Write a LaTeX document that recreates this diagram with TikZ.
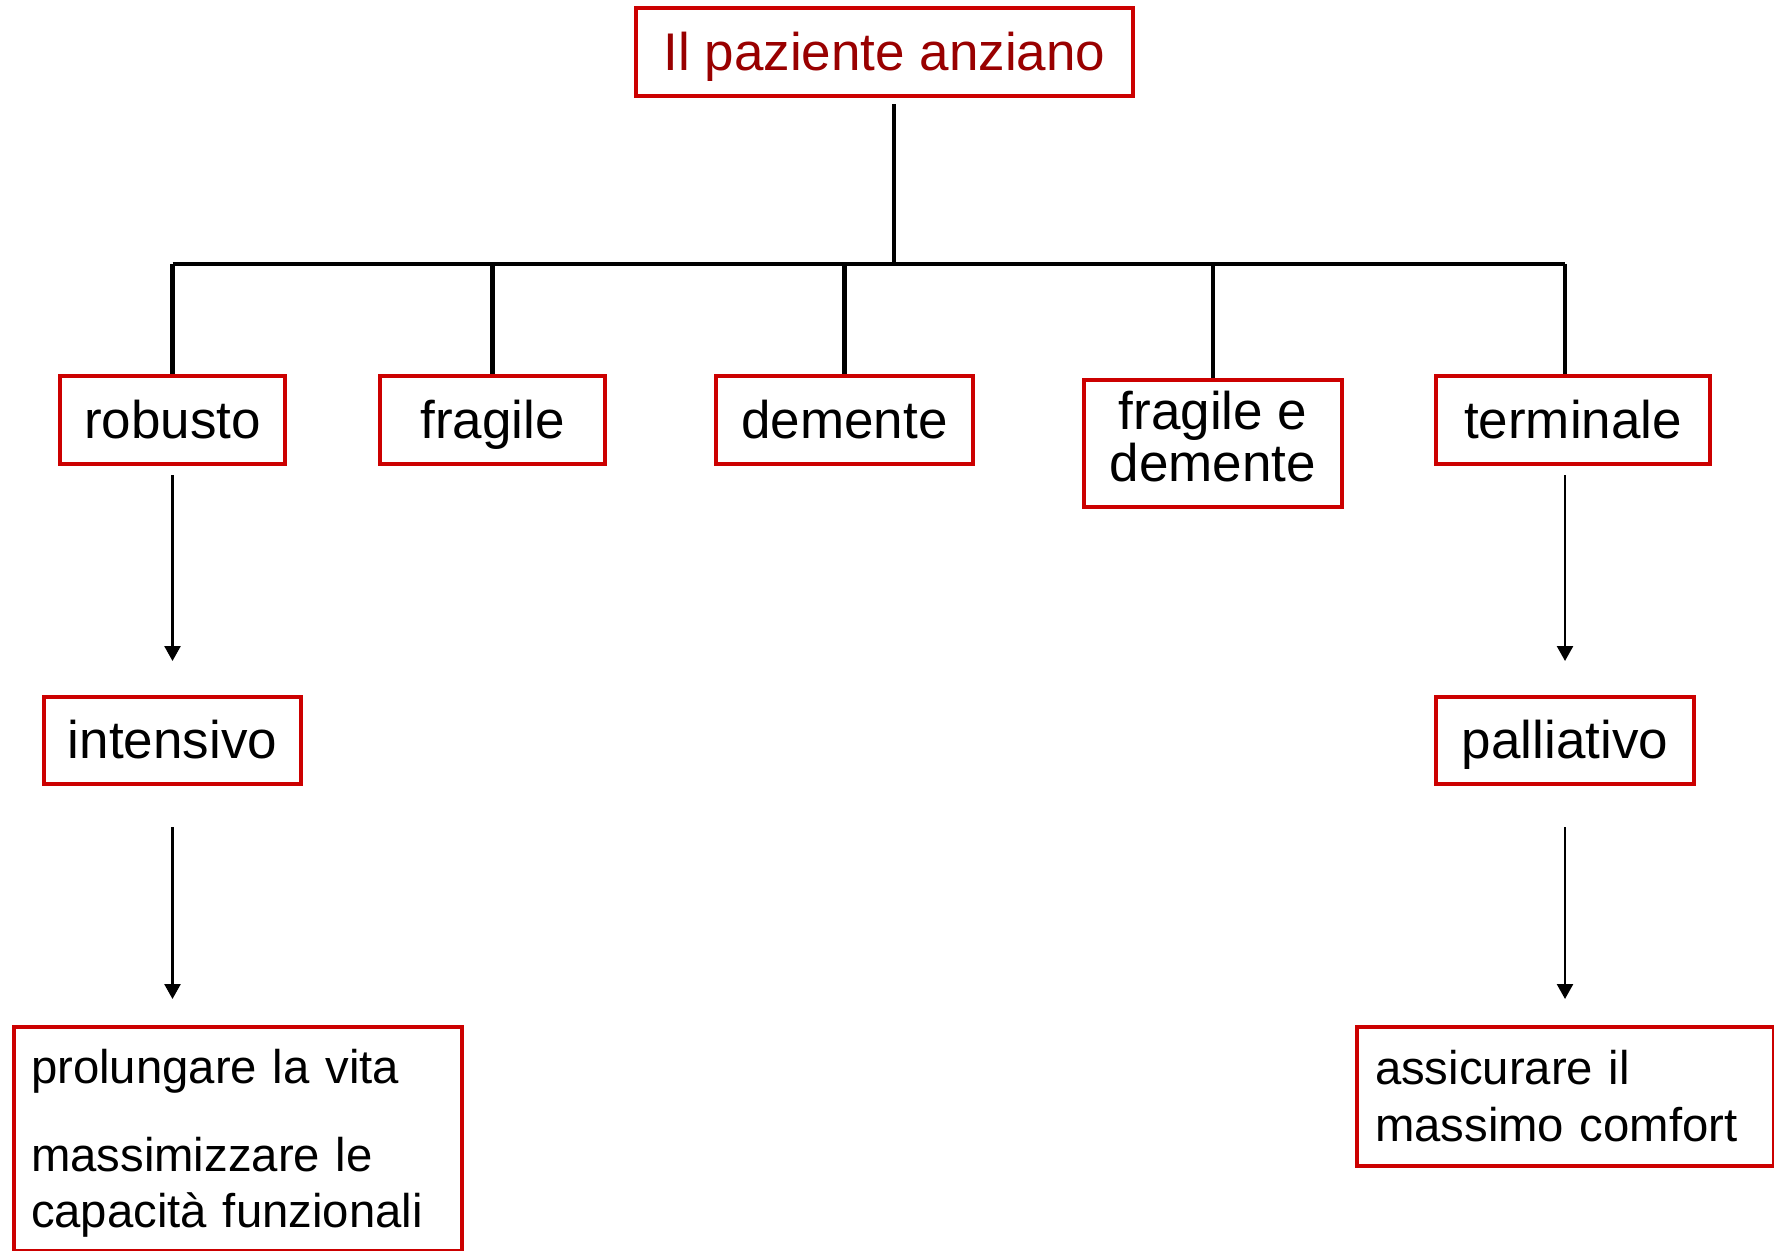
\documentclass[tikz,border=0pt]{standalone}
\usepackage{fontspec}
\setmainfont{Liberation Sans}
\usetikzlibrary{arrows.meta}
\definecolor{boxred}{RGB}{204,0,0}
\definecolor{titlered}{RGB}{153,0,0}
\begin{document}
\begin{tikzpicture}[x=1pt,y=-1pt,
  box/.style={draw=boxred, line width=4pt, inner sep=0pt, font=\fontsize{53}{51}\selectfont, align=center},
  onel/.style={text height=40pt, text depth=4pt},
  goal/.style={draw=boxred, line width=4pt, inner xsep=0pt, inner ysep=0pt, anchor=north west, align=left, font=\fontsize{47.3}{56}\selectfont},
  tree/.style={line width=4.5pt, black},
  arr/.style={line width=2.5pt, -{Triangle[width=16pt,length=15pt]}},
]
\useasboundingbox[fill=white] (0,0) rectangle (1774,1250);

\node[box, onel, text=titlered, minimum width=497pt, minimum height=88pt] (top) at (884.5,52) {Il paziente anziano};

\node[box, onel, minimum width=225pt, minimum height=88pt] (robusto) at (172.5,420) {robusto};
\node[box, onel, minimum width=225pt, minimum height=88pt] (fragile) at (492.5,420) {fragile};
\node[box, onel, minimum width=257pt, minimum height=88pt] (demente) at (844.5,420) {demente};
\node[box, font=\fontsize{53}{52}\selectfont, text depth=14pt, minimum width=258pt, minimum height=127pt] (fragdem) at (1213,443.5) {fragile e\\demente};
\node[box, onel, minimum width=274pt, minimum height=88pt] (terminale) at (1573,420) {terminale};

\node[box, onel, minimum width=257pt, minimum height=87pt] (intensivo) at (172.5,740.5) {intensivo};
\node[box, onel, minimum width=258pt, minimum height=87pt] (palliativo) at (1565,740.5) {palliativo};

\node[goal, text width=414pt, minimum width=448pt, minimum height=224pt] (goalL) at (12,1025) {\rule{0pt}{43pt}prolungare la vita\\[32pt]massimizzare le\\capacità funzionali};
\node[goal, font=\fontsize{47.3}{57}\selectfont, text width=381pt, minimum width=417pt, minimum height=139pt] (goalR) at (1355,1025) {assicurare il\\massimo comfort};

% tree
\coordinate (hub) at (894,264);
\coordinate (topout) at (894,104);
\coordinate (tx) at (1565,376);
\draw[tree] (topout) -- (hub);
\draw[tree] (robusto.north |- hub) -- (tx |- hub);
\draw[tree] (robusto.north |- hub) -- (robusto.north);
\draw[tree] (fragile.north |- hub) -- (fragile.north);
\draw[tree] (demente.north |- hub) -- (demente.north);
\draw[tree] (fragdem.north |- hub) -- (fragdem.north);
\draw[tree] (tx |- hub) -- (tx |- terminale.north);

% arrows
\draw[arr, shorten <=9pt, shorten >=34pt] (robusto.south) -- (intensivo.north);
\draw[arr, shorten <=41pt, shorten >=26pt] (intensivo.south) -- (intensivo.south |- goalL.north);
\draw[arr, shorten <=9pt, shorten >=34pt] (palliativo.north |- terminale.south) -- (palliativo.north);
\draw[arr, shorten <=41pt, shorten >=26pt] (palliativo.south) -- (palliativo.south |- goalR.north);
\end{tikzpicture}
\end{document}
